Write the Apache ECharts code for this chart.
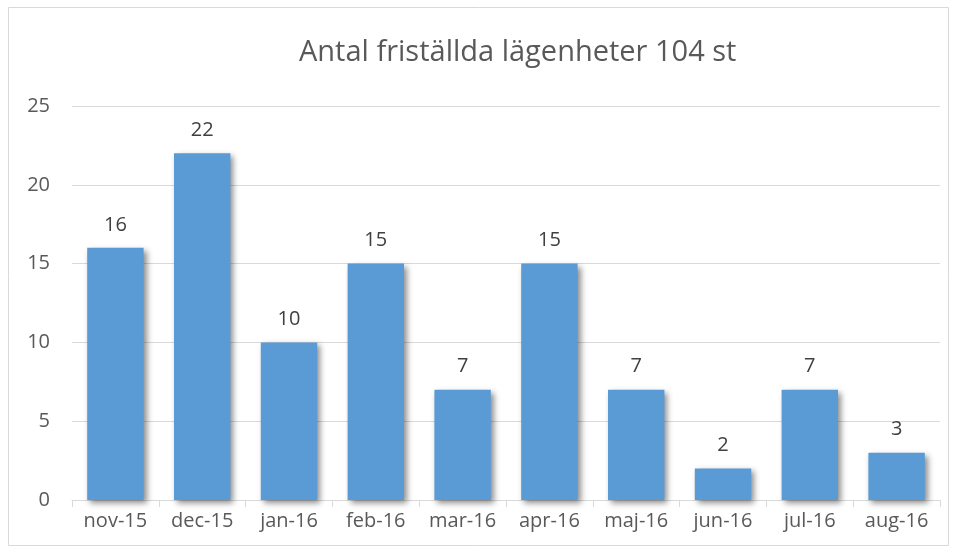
<!DOCTYPE html>
<html><head><meta charset="utf-8">
<script src="https://cdn.jsdelivr.net/npm/echarts@6/dist/echarts.min.js"></script>
<style>html,body{margin:0;padding:0;background:#fff}#c{width:957px;height:553px}</style>
</head><body><div id="c"></div>
<script>
const categories = ['nov-15','dec-15','jan-16','feb-16','mar-16','apr-16','maj-16','jun-16','jul-16','aug-16'];
const values = [16,22,10,15,7,15,7,2,7,3];
const titleText = 'Antal friställda lägenheter 104 st';
const chart = echarts.init(document.getElementById('c'));
const font = "'Open Sans', 'Liberation Sans', sans-serif";
chart.setOption({
  animation:false,
  textStyle:{fontFamily:font},
  graphic:[{type:'rect',shape:{x:8.5,y:7.5,width:940,height:538},style:{fill:'none',stroke:'#d9d9d9',lineWidth:1},silent:true}],
  title:{text:titleText,left:294,top:33,textStyle:{fontFamily:font,fontSize:29,fontWeight:'normal',color:'#595959'}},
  grid:{left:72,right:17,top:106,bottom:53},
  xAxis:{type:'category',data:categories,
    axisLine:{lineStyle:{color:'#d9d9d9'}},
    axisTick:{show:true,length:7,lineStyle:{color:'#d9d9d9'}},
    axisLabel:{color:'#595959',fontSize:20,fontFamily:font,margin:11,interval:0,hideOverlap:false}},
  yAxis:{type:'value',min:0,max:25,interval:5,
    axisLine:{show:false},axisTick:{show:false},
    splitLine:{lineStyle:{color:'#d9d9d9'}},
    axisLabel:{color:'#595959',fontSize:20,fontFamily:font,margin:22}},
  series:[{type:'bar',data:values,barCategoryGap:'35%',
    itemStyle:{color:'#5b9bd5',shadowColor:'rgba(0,0,0,0.45)',shadowBlur:6,shadowOffsetX:3,shadowOffsetY:3},
    label:{show:true,position:'top',distance:13,color:'#404040',fontSize:20,fontFamily:font}}]
});
</script></body></html>
